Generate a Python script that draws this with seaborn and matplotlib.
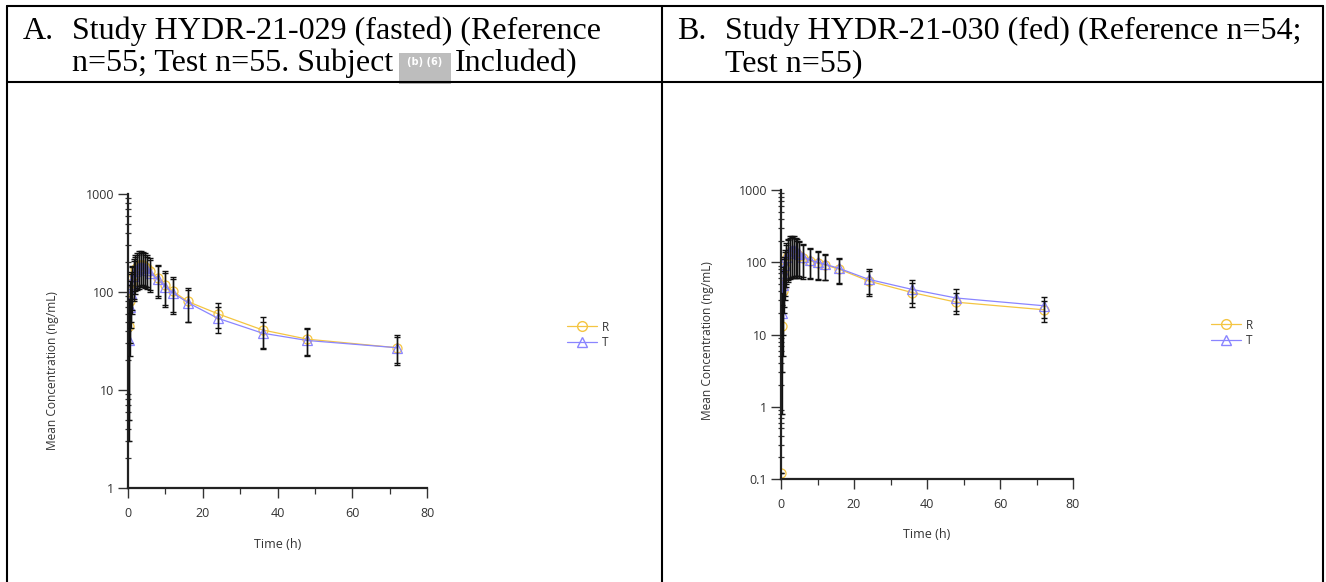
import numpy as np
import pandas as pd
import seaborn as sns
import matplotlib.pyplot as plt
from matplotlib.lines import Line2D
from matplotlib.patches import Rectangle
import matplotlib.ticker as mticker

# sampling times (h)
times = [0, 0.25, 0.5, 0.75, 1, 1.5, 2, 2.5, 3, 3.5, 4, 4.5, 5, 6, 8, 10, 12, 16, 24, 36, 48, 72]

# Study A (fasted)
a_r_mean = [0, 45, 80, 105, 125, 150, 170, 180, 188, 190, 188, 182, 175, 162, 140, 118, 102, 80, 60, 41, 33, 27]
a_r_sd = [0, 40, 50, 55, 60, 65, 68, 70, 72, 72, 70, 66, 62, 58, 50, 44, 40, 30, 17, 14, 10, 9]
a_t_mean = [0, 32, 70, 98, 120, 145, 162, 172, 178, 182, 180, 175, 168, 155, 135, 113, 98, 78, 54, 38, 32, 27]
a_t_sd = [0, 29, 48, 55, 60, 64, 66, 68, 70, 70, 68, 64, 60, 56, 48, 42, 38, 28, 16, 12, 10, 8]

# Study B (fed)
b_r_mean = [0.12, 13, 40, 65, 85, 110, 128, 138, 142, 140, 136, 130, 124, 115, 105, 97, 92, 80, 55, 38, 28, 22]
b_r_sd = [0, 12.2, 35, 45, 55, 65, 75, 80, 82, 80, 75, 70, 64, 56, 46, 40, 36, 30, 21, 14, 9, 7]
b_t_mean = [0, 20, 48, 72, 92, 118, 135, 145, 148, 146, 142, 136, 130, 120, 108, 100, 94, 82, 58, 42, 32, 25]
b_t_sd = [0, 17, 38, 48, 58, 68, 78, 84, 85, 82, 78, 72, 66, 58, 48, 42, 38, 31, 22, 15, 11, 8]

treatments = ["R", "T"]
colors = {"R": "#f4c542", "T": "#8a85ff"}
markers = {"R": "o", "T": "^"}

header_a = ["Study HYDR-21-029 (fasted) (Reference", "n=55; Test n=55. Subject", "Included)"]
header_b = ["Study HYDR-21-030 (fed) (Reference n=54;", "Test n=55)"]

sns.set_style("ticks")
plt.rcParams["font.family"] = ["Open Sans", "DejaVu Sans"]

W, H = 1326, 582
fig = plt.figure(figsize=(W / 100, H / 100), dpi=100)


def fx(x):
    return x / W


def fy(y):
    return 1 - y / H


# table grid
lw = 1.5
for (x0, y0, x1, y1) in [(7, 6, 1323, 6), (7, 82, 1323, 82), (7, 6, 7, 582),
                         (662, 6, 662, 582), (1323, 6, 1323, 582)]:
    fig.add_artist(Line2D([fx(x0), fx(x1)], [fy(y0), fy(y1)], color="black", lw=lw))

serif = dict(family="Liberation Serif", fontsize=23, va="baseline", color="black")
fig.text(fx(23), fy(39), "A.", **serif)
fig.text(fx(72), fy(39), header_a[0], **serif)
fig.text(fx(72), fy(71), header_a[1], **serif)
fig.text(fx(455), fy(71), header_a[2], **serif)
fig.add_artist(Rectangle((fx(399), fy(84)), fx(52), 31 / H, color="#bdbdbd", lw=0))
fig.text(fx(425), fy(62), "(b) (6)", color="white", fontsize=7, fontweight="bold",
         ha="center", va="center", family="DejaVu Sans")

fig.text(fx(677), fy(39), "B.", **serif)
fig.text(fx(725), fy(39), header_b[0], **serif)
fig.text(fx(725), fy(71), header_b[1], **serif)


def make_df(r_mean, r_sd, t_mean, t_sd):
    rows = []
    for trt, m, s in [("R", r_mean, r_sd), ("T", t_mean, t_sd)]:
        for t, mm, ss in zip(times, m, s):
            rows.append({"time": t, "conc": mm, "sd": ss, "trt": trt})
    df = pd.DataFrame(rows)
    return df[df["conc"] > 0]


def draw(ax, df, ymin, ymax, legend_xy):
    ax.set_yscale("log")
    sns.lineplot(data=df, x="time", y="conc", hue="trt", style="trt",
                 palette=colors, markers=markers, dashes=False, ax=ax,
                 linewidth=0.9, markersize=6.5, markerfacecolor="none",
                 markeredgewidth=0.9, estimator=None, errorbar=None,
                 legend=False, zorder=2)
    for line in ax.lines:
        line.set_markeredgecolor(line.get_color())
    for trt in treatments:
        d = df[df["trt"] == trt]
        ax.errorbar(d["time"], d["conc"], yerr=[np.minimum(d["sd"], d["conc"] * 0.999), d["sd"]],
                    fmt="none", ecolor="#111111", elinewidth=1.0, capsize=2.5, capthick=1.0, zorder=3)
    ax.set_xlim(0, 80)
    ax.set_ylim(ymin, ymax)
    ax.set_xticks([0, 20, 40, 60, 80])
    ax.xaxis.set_minor_locator(mticker.MultipleLocator(10))
    ax.yaxis.set_major_locator(mticker.LogLocator(base=10))
    ax.yaxis.set_minor_locator(mticker.LogLocator(base=10, subs=np.arange(2, 10)))
    ax.yaxis.set_major_formatter(mticker.FuncFormatter(lambda v, p: f"{v:g}"))
    ax.yaxis.set_minor_formatter(mticker.NullFormatter())
    for s in ["top", "right"]:
        ax.spines[s].set_visible(False)
    for s in ["left", "bottom"]:
        ax.spines[s].set_linewidth(1.6)
        ax.spines[s].set_color("#222222")
    ax.tick_params(which="major", direction="out", length=7, width=1.0,
                   labelsize=9, colors="#333333")
    ax.tick_params(axis="x", which="major", pad=7)
    ax.tick_params(axis="y", which="major", pad=3)
    ax.tick_params(axis="y", which="minor", direction="inout", length=5, width=0.9, colors="#333333")
    ax.tick_params(axis="x", which="minor", direction="out", length=4, width=0.9, colors="#333333")
    ax.set_xlabel("Time (h)", fontsize=9, color="#333333")
    ax.set_ylabel("Mean Concentration (ng/mL)", fontsize=8.6, color="#333333")
    ax.xaxis.set_label_coords(0.5, -0.17)
    handles = [Line2D([0], [0], color=colors[t], marker=markers[t], markerfacecolor="none",
                      markeredgecolor=colors[t], lw=0.9, markersize=7) for t in treatments]
    ax.legend(handles, treatments, loc="center left", bbox_to_anchor=legend_xy,
              bbox_transform=fig.transFigure, frameon=False, fontsize=8.5,
              handlelength=2.6, handletextpad=0.4, labelspacing=0.25,
              labelcolor="#333333")


ax_a = fig.add_axes([fx(128), fy(488), fx(299), 294 / H])
draw(ax_a, make_df(a_r_mean, a_r_sd, a_t_mean, a_t_sd), 1, 1000, (fx(556), fy(335)))
ax_a.yaxis.set_label_coords(-0.23, 0.40)

ax_b = fig.add_axes([fx(781), fy(479), fx(292), 289 / H])
draw(ax_b, make_df(b_r_mean, b_r_sd, b_t_mean, b_t_sd), 0.1, 1000, (fx(1200), fy(333)))
ax_b.yaxis.set_label_coords(-0.23, 0.48)

fig.savefig("out.png", dpi=100)
